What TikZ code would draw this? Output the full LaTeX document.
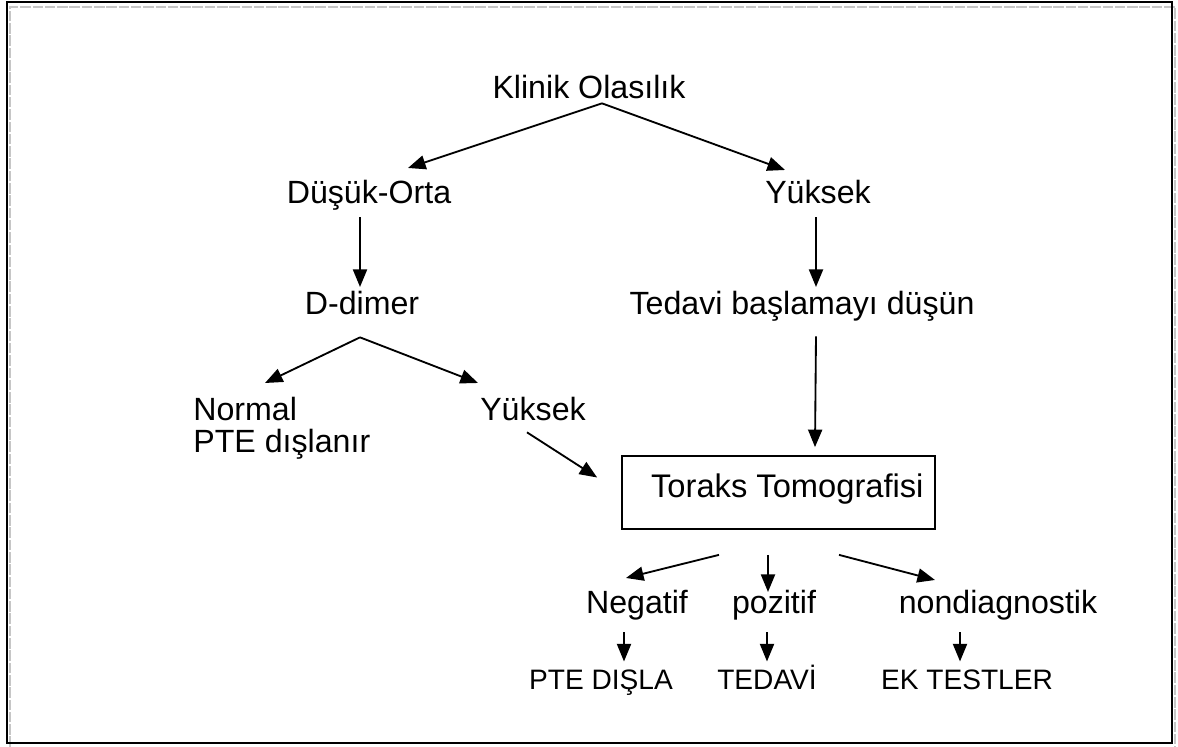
\documentclass[tikz,border=0pt]{standalone}
\usepackage{fontspec}
\setmainfont{Liberation Sans}
\usepackage{tikz}
\usetikzlibrary{arrows.meta,positioning,calc}
\tikzset{
  lbl/.style={inner sep=0pt, anchor=base, text height=12.9pt, text depth=0pt,
              font=\fontsize{18.3}{21.9}\selectfont},
  smlbl/.style={inner sep=0pt, anchor=base, text height=11.5pt, text depth=0pt,
                font=\fontsize{16}{19.2}\selectfont},
  tbox/.style={rectangle, draw=black, line width=1pt, inner sep=0pt,
               minimum width=6.26cm, minimum height=1.46cm,
               text height=12.9pt, text depth=7.7pt,
               font=\fontsize{18.6}{22.3}\selectfont},
  arr/.style={-{Triangle[length=10pt,width=8pt]}, line width=1.05pt, draw=black},
}
\begin{document}
\begin{tikzpicture}[x=0.02cm, y=-0.02cm]
  \useasboundingbox (0,0) rectangle (1178,747);
  % page frame
  \draw[gray!45, line width=0.6pt, dash pattern=on 6pt off 1pt] (10,747) -- (10,7) -- (1175,7) -- (1175,747);
  \draw[black, line width=1.3pt] (7,2) rectangle (1172,743);
  % top levels
  \node[lbl] (klinik)  at (589,98)  {Klinik Olasılık};
  \node[lbl] (dusuk)   at (369,203) {Düşük-Orta};
  \node[lbl] (yuksekA) at (818,203) {Yüksek};
  \node[lbl] (ddimer)  at (362,314) {D-dimer};
  \node[lbl] (tedavi)  at (802,314) {Tedavi başlamayı düşün};
  \node[lbl, anchor=north west, align=left, text height=, font=\fontsize{18.3}{18.2}\selectfont]
       (normal) at (193,397) {Normal\\PTE dışlanır};
  \node[lbl] (yuksekB) at (533,420) {Yüksek};
  \node[tbox] (toraks) at (778.5,492.5) {\hspace*{10\pgflinewidth}Toraks Tomografisi};
  % results
  \node[lbl] (negatif) at (637,613) {Negatif};
  \node[lbl] (pozitif) at (774,613) {pozitif};
  \node[lbl] (nondiag) at (998,613) {nondiagnostik};
  \node[smlbl] (ptedisla) at (601,689) {PTE DIŞLA};
  \node[smlbl] (tedaviB)  at (767,689) {TEDAVİ};
  \node[smlbl] (ektest)   at (967,689) {EK TESTLER};
  % arrows
  \draw[arr] ([shift={(13,5)}]klinik.south)   -- ([shift={(39,-12)}]dusuk.north);
  \draw[arr] ([shift={(13,5)}]klinik.south)   -- ([shift={(-33,-10)}]yuksekA.north);
  \draw[arr] ([shift={(-9,14)}]dusuk.south)   -- ([shift={(-2,-4)}]ddimer.north);
  \draw[arr] ([shift={(-2,14)}]yuksekA.south) -- ([shift={(14,-4)}]tedavi.north);
  \draw[arr] ([shift={(-2,23)}]ddimer.south)  -- ([shift={(72,-14)}]normal.north west);
  \draw[arr] ([shift={(-2,23)}]ddimer.south)  -- ([shift={(-55,-14)}]yuksekB.north);
  \draw[arr] ([shift={(-6,12)}]yuksekB.south) -- ([shift={(-24,-15)}]toraks.west);
  \draw[arr] ([shift={(14,22)}]tedavi.south)  -- ([shift={(36.5,-8)}]toraks.north);
  \draw[arr] ([shift={(-59.5,25)}]toraks.south) -- ([shift={(-11,-12)}]negatif.north);
  \draw[arr] ([shift={(-10.5,25)}]toraks.south) -- ([shift={(-6,2)}]pozitif.north);
  \draw[arr] ([shift={(60.5,25)}]toraks.south)  -- ([shift={(-63,-10)}]nondiag.north);
  \draw[arr] ([shift={(-13,19)}]negatif.south) -- ([shift={(23,-7)}]ptedisla.north);
  \draw[arr] ([shift={(-7,19)}]pozitif.south)  -- ([shift={(0,-7)}]tedaviB.north);
  \draw[arr] ([shift={(-38,19)}]nondiag.south) -- ([shift={(-7,-7)}]ektest.north);
\end{tikzpicture}
\end{document}
